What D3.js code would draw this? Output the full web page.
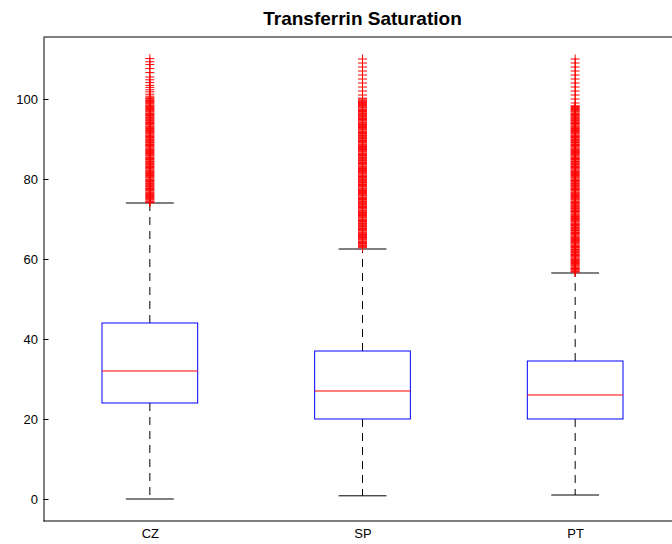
<!DOCTYPE html>
<html>
<head>
<meta charset="utf-8">
<script src="https://cdn.jsdelivr.net/npm/d3@7"></script>
<style>
  html, body { margin: 0; padding: 0; background: #fff; }
  svg { display: block; font-family: "Liberation Sans", Arial, Helvetica, sans-serif; }
</style>
</head>
<body>
<svg id="chart" width="672" height="544"></svg>
<script>
// Box statistics per country
const categories = ["CZ", "SP", "PT"];
const q1 = [24, 20, 20];
const medians = [32, 27, 26];
const q3 = [44, 37, 34.5];
const whiskerLow = [0, 0.8, 1];
const whiskerHigh = [74, 62.5, 56.5];
const yTicks = [0, 20, 40, 60, 80, 100];

// Outlying observations above the upper whisker
const outliersCZ = [110.1, 109.3, 108.6, 107.6, 106.6, 105.5, 104.8, 104.1, 103.4, 102.9,
  102.3, 101.8, 101.2, 100.7, 100.3, 100.1, 99.8, 99.6, 99.4, 99.2, 99.0, 98.8, 98.5, 98.3,
  98.1, 97.9, 97.6, 97.4, 97.2, 97.0, 96.8, 96.5, 96.3, 96.1, 95.9, 95.7, 95.4, 95.2, 95.0,
  94.8, 94.6, 94.3, 94.1, 93.9, 93.7, 93.5, 93.2, 93.0, 92.8, 92.6, 92.4, 92.1, 91.9, 91.7,
  91.5, 91.3, 91.0, 90.8, 90.6, 90.4, 90.2, 89.9, 89.7, 89.5, 89.3, 89.1, 88.8, 88.6, 88.4,
  88.2, 88.0, 87.7, 87.5, 87.3, 87.1, 86.9, 86.6, 86.4, 86.2, 86.0, 85.8, 85.5, 85.3, 85.1,
  84.9, 84.7, 84.4, 84.2, 84.0, 83.8, 83.6, 83.3, 83.1, 82.9, 82.7, 82.5, 82.2, 82.0, 81.8,
  81.6, 81.4, 81.1, 80.9, 80.7, 80.5, 80.3, 80.0, 79.8, 79.6, 79.4, 79.2, 78.9, 78.7, 78.5,
  78.3, 78.1, 77.8, 77.6, 77.4, 77.2, 77.0, 76.7, 76.5, 76.3, 76.1, 75.9, 75.6, 75.4, 75.2,
  75.0, 74.8, 74.5, 74.3, 74.1];
const outliersSP = [110, 109, 108, 107, 106, 105, 104, 103, 102, 101,
  100.2, 100.0, 99.7, 99.5, 99.3, 99.1, 98.9, 98.6, 98.4, 98.2, 98.0, 97.8, 97.5, 97.3, 97.1,
  96.9, 96.7, 96.4, 96.2, 96.0, 95.8, 95.6, 95.3, 95.1, 94.9, 94.7, 94.5, 94.2, 94.0, 93.8,
  93.6, 93.4, 93.1, 92.9, 92.7, 92.5, 92.3, 92.0, 91.8, 91.6, 91.4, 91.2, 90.9, 90.7, 90.5,
  90.3, 90.1, 89.8, 89.6, 89.4, 89.2, 89.0, 88.7, 88.5, 88.3, 88.1, 87.9, 87.6, 87.4, 87.2,
  87.0, 86.8, 86.5, 86.3, 86.1, 85.9, 85.7, 85.4, 85.2, 85.0, 84.8, 84.6, 84.3, 84.1, 83.9,
  83.7, 83.5, 83.2, 83.0, 82.8, 82.6, 82.4, 82.1, 81.9, 81.7, 81.5, 81.3, 81.0, 80.8, 80.6,
  80.4, 80.2, 79.9, 79.7, 79.5, 79.3, 79.1, 78.8, 78.6, 78.4, 78.2, 78.0, 77.7, 77.5, 77.3,
  77.1, 76.9, 76.6, 76.4, 76.2, 76.0, 75.8, 75.5, 75.3, 75.1, 74.9, 74.7, 74.4, 74.2, 74.0,
  73.8, 73.6, 73.3, 73.1, 72.9, 72.7, 72.5, 72.2, 72.0, 71.8, 71.6, 71.4, 71.1, 70.9, 70.7,
  70.5, 70.3, 70.0, 69.8, 69.6, 69.4, 69.2, 68.9, 68.7, 68.5, 68.3, 68.1, 67.8, 67.6, 67.4,
  67.2, 67.0, 66.7, 66.5, 66.3, 66.1, 65.9, 65.6, 65.4, 65.2, 65.0, 64.8, 64.5, 64.3, 64.1,
  63.9, 63.7, 63.4, 63.2, 63.0, 62.8];
const outliersPT = [110, 109, 108, 107, 106, 105, 104, 103, 102, 101, 100, 99,
  98.3, 98.1, 97.9, 97.6, 97.4, 97.2, 97.0, 96.8, 96.5, 96.3, 96.1, 95.9, 95.7, 95.4, 95.2,
  95.0, 94.8, 94.6, 94.3, 94.1, 93.9, 93.7, 93.5, 93.2, 93.0, 92.8, 92.6, 92.4, 92.1, 91.9,
  91.7, 91.5, 91.3, 91.0, 90.8, 90.6, 90.4, 90.2, 89.9, 89.7, 89.5, 89.3, 89.1, 88.8, 88.6,
  88.4, 88.2, 88.0, 87.7, 87.5, 87.3, 87.1, 86.9, 86.6, 86.4, 86.2, 86.0, 85.8, 85.5, 85.3,
  85.1, 84.9, 84.7, 84.4, 84.2, 84.0, 83.8, 83.6, 83.3, 83.1, 82.9, 82.7, 82.5, 82.2, 82.0,
  81.8, 81.6, 81.4, 81.1, 80.9, 80.7, 80.5, 80.3, 80.0, 79.8, 79.6, 79.4, 79.2, 78.9, 78.7,
  78.5, 78.3, 78.1, 77.8, 77.6, 77.4, 77.2, 77.0, 76.7, 76.5, 76.3, 76.1, 75.9, 75.6, 75.4,
  75.2, 75.0, 74.8, 74.5, 74.3, 74.1, 73.9, 73.7, 73.4, 73.2, 73.0, 72.8, 72.6, 72.3, 72.1,
  71.9, 71.7, 71.5, 71.2, 71.0, 70.8, 70.6, 70.4, 70.1, 69.9, 69.7, 69.5, 69.3, 69.0, 68.8,
  68.6, 68.4, 68.2, 67.9, 67.7, 67.5, 67.3, 67.1, 66.8, 66.6, 66.4, 66.2, 66.0, 65.7, 65.5,
  65.3, 65.1, 64.9, 64.6, 64.4, 64.2, 64.0, 63.8, 63.5, 63.3, 63.1, 62.9, 62.7, 62.4, 62.2,
  62.0, 61.8, 61.6, 61.3, 61.1, 60.9, 60.7, 60.5, 60.2, 60.0, 59.8, 59.6, 59.4, 59.1, 58.9,
  58.7, 58.5, 58.3, 58.0, 57.8, 57.6, 57.4, 57.2, 56.9, 56.7];
const outliers = [outliersCZ, outliersSP, outliersPT];

const svg = d3.select("#chart");
const W = 672;

// Axes box: the plot area runs slightly past the right edge of the page
const plotLeft = 43.5, plotRight = 681.5, plotTop = 37, plotBottom = 521;
const x = d3.scaleLinear().domain([0.5, 3.5]).range([plotLeft, plotRight]);
const y = d3.scaleLinear().domain([-5.5, 115.5]).range([plotBottom, plotTop]);

const boxHalf = 0.225;   // in x units
const capHalf = 0.1125;

const groups = categories.map((c, i) => ({
  name: c, pos: i + 1, q1: q1[i], med: medians[i], q3: q3[i],
  lo: whiskerLow[i], hi: whiskerHigh[i], out: outliers[i]
}));

const g = svg.append("g");

// Whiskers (dashed)
g.append("g").selectAll("line").data(groups).join("line")
  .attr("x1", d => x(d.pos)).attr("x2", d => x(d.pos))
  .attr("y1", d => y(d.q3)).attr("y2", d => y(d.hi))
  .attr("stroke", "#000").attr("stroke-width", 1).attr("stroke-dasharray", "8,6");
g.append("g").selectAll("line").data(groups).join("line")
  .attr("x1", d => x(d.pos)).attr("x2", d => x(d.pos))
  .attr("y1", d => y(d.q1)).attr("y2", d => y(d.lo))
  .attr("stroke", "#000").attr("stroke-width", 1).attr("stroke-dasharray", "8,6");

// Whisker caps
["hi", "lo"].forEach(k => {
  g.append("g").selectAll("line").data(groups).join("line")
    .attr("x1", d => x(d.pos - capHalf)).attr("x2", d => x(d.pos + capHalf))
    .attr("y1", d => y(d[k])).attr("y2", d => y(d[k]))
    .attr("stroke", "#000").attr("stroke-width", 1);
});

// Boxes
g.append("g").selectAll("rect").data(groups).join("rect")
  .attr("x", d => x(d.pos - boxHalf))
  .attr("width", d => x(d.pos + boxHalf) - x(d.pos - boxHalf))
  .attr("y", d => y(d.q3))
  .attr("height", d => y(d.q1) - y(d.q3))
  .attr("fill", "none").attr("stroke", "#0000ff").attr("stroke-width", 1);

// Medians
g.append("g").selectAll("line").data(groups).join("line")
  .attr("x1", d => x(d.pos - boxHalf)).attr("x2", d => x(d.pos + boxHalf))
  .attr("y1", d => y(d.med)).attr("y2", d => y(d.med))
  .attr("stroke", "#ff0000").attr("stroke-width", 1);

// Outlier "+" markers
const plus = "M-4.5,0H4.5M0,-4.5V4.5";
groups.forEach(d => {
  g.append("g").selectAll("path").data(d.out).join("path")
    .attr("d", plus)
    .attr("transform", v => `translate(${x(d.pos)},${y(v)})`)
    .attr("fill", "none").attr("stroke", "#ff0000").attr("stroke-width", 1);
});

// Frame: top and bottom edges
svg.append("line").attr("x1", plotLeft).attr("x2", W).attr("y1", plotTop).attr("y2", plotTop)
  .attr("stroke", "#000").attr("stroke-width", 1);
svg.append("line").attr("x1", plotLeft).attr("x2", W).attr("y1", plotBottom).attr("y2", plotBottom)
  .attr("stroke", "#000").attr("stroke-width", 1);

// Y axis with inward ticks
const yAxis = d3.axisLeft(y).tickValues(yTicks).tickSizeInner(-5).tickSizeOuter(0).tickPadding(5.5);
const ya = svg.append("g").attr("transform", `translate(${plotLeft},0)`).call(yAxis);
ya.select(".domain").attr("stroke", "#000").attr("stroke-width", 1);
ya.selectAll(".tick line").attr("stroke", "#000");
ya.selectAll(".tick text").attr("font-size", 13).attr("fill", "#000")
  .attr("font-family", "'Liberation Sans', Arial, sans-serif");

// X axis: category labels only
const xAxis = d3.axisBottom(x).tickValues([1, 2, 3]).tickFormat((d, i) => categories[i])
  .tickSize(0).tickPadding(8);
const xa = svg.append("g").attr("transform", `translate(0,${plotBottom})`).call(xAxis);
xa.select(".domain").remove();
xa.selectAll(".tick text").attr("font-size", 13).attr("fill", "#000")
  .attr("font-family", "'Liberation Sans', Arial, sans-serif");

// Title
svg.append("text")
  .attr("x", (plotLeft + plotRight) / 2).attr("y", 25)
  .attr("text-anchor", "middle")
  .attr("font-size", 19).attr("font-weight", "bold").attr("fill", "#000")
  .text("Transferrin Saturation");
</script>
</body>
</html>
